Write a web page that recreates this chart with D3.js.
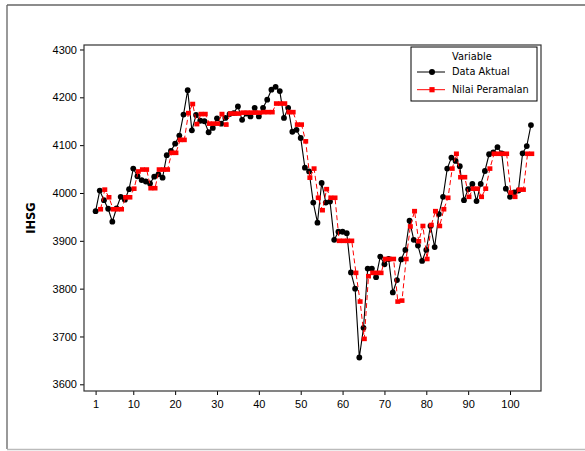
<!DOCTYPE html>
<html>
<head>
<meta charset="utf-8">
<script src="https://cdn.jsdelivr.net/npm/d3@7"></script>
<style>
  body { margin: 0; background: #fff; }
  svg { display: block; font-family: "DejaVu Sans", Verdana, sans-serif; }
  .axis text { font-size: 11px; fill: #000; }
  .axis line { stroke: #000; }
  .axis path { display: none; }
</style>
</head>
<body>
<svg id="chart"></svg>
<script>
// data
var periods = d3.range(1, 106);

var aktual = [
  3962, 4005, 3985, 3967, 3940, 3968, 3992, 3986, 4008, 4051,
  4035, 4027, 4024, 4020, 4034, 4039, 4032, 4079, 4088, 4103,
  4120, 4164, 4215, 4131, 4163, 4151, 4150, 4127, 4136, 4156,
  4145, 4157, 4165, 4167, 4181, 4153, 4166, 4160, 4178, 4160,
  4178, 4195, 4216, 4222, 4213, 4157, 4178, 4128, 4132, 4115,
  4053, 4045, 3980, 3938, 4021, 3980, 3982, 3902, 3919, 3919,
  3916, 3834, 3800, 3656, 3718, 3842, 3842, 3824, 3867, 3851,
  3862, 3792, 3818, 3861, 3881, 3942, 3902, 3890, 3858, 3881,
  3931, 3887, 3956, 3992, 4051, 4074, 4067, 4056, 3985, 4008,
  4019, 3983, 4019, 4046, 4081, 4085, 4096, 4083, 4009, 3992,
  4001, 4005, 4083, 4098, 4142
];

var peramalan = [
  null, 3966, 4007, 3991, 3966, 3966, 3966, 3991, 3991, 4009,
  4045, 4049, 4049, 4010, 4010, 4049, 4049, 4049, 4084, 4084,
  4111, 4111, 4167, 4186, 4144, 4165, 4165, 4145, 4145, 4145,
  4165, 4143, 4166, 4166, 4166, 4168, 4168, 4168, 4168, 4168,
  4169, 4169, 4169, 4187, 4187, 4187, 4169, 4169, 4143, 4143,
  4108, 4032, 4051, 3990, 3964, 4008, 3990, 3990, 3900, 3900,
  3900, 3900, 3833, 3773, 3695, 3826, 3833, 3833, 3833, 3862,
  3862, 3862, 3773, 3775, 3862, 3930, 3962, 3899, 3931, 3862,
  3933, 3962, 3931, 3966, 3990, 4051, 4082, 4033, 4033, 3992,
  4009, 4009, 3992, 4009, 4051, 4082, 4082, 4082, 4082, 4001,
  3992, 4007, 4007, 4082, 4082
];

var xTicks = [1, 10, 20, 30, 40, 50, 60, 70, 80, 90, 100];
var yTicks = [3600, 3700, 3800, 3900, 4000, 4100, 4200, 4300];
var legendLabels = ["Data Aktual", "Nilai Peramalan"];

var svgWidth = 585, svgHeight = 451;
var plot = { left: 84, right: 541, top: 45, bottom: 391 };

var svg = d3.select('#chart')
    .attr('width', svgWidth)
    .attr('height', svgHeight);

// outer frame
svg.append('line').attr('x1', 7).attr('y1', 5).attr('x2', 7).attr('y2', 449)
    .attr('stroke', '#777').attr('stroke-width', 1.5);
svg.append('line').attr('x1', 7).attr('y1', 5).attr('x2', 585).attr('y2', 5)
    .attr('stroke', '#666').attr('stroke-width', 1.5);
svg.append('line').attr('x1', 7).attr('y1', 449.5).attr('x2', 585).attr('y2', 449.5)
    .attr('stroke', '#bbb').attr('stroke-width', 1.5);

var x = d3.scaleLinear()
    .domain([-1.77, 107.4])
    .range([plot.left, plot.right]);

var y = d3.scaleLinear()
    .domain([3586, 4309.4])
    .range([plot.bottom, plot.top]);

// axes
svg.append('g')
    .attr('class', 'axis')
    .attr('transform', 'translate(0,' + plot.bottom + ')')
    .call(d3.axisBottom(x).tickValues(xTicks).tickSize(4).tickPadding(5).tickFormat(d3.format('d')));

svg.append('g')
    .attr('class', 'axis')
    .attr('transform', 'translate(' + plot.left + ',0)')
    .call(d3.axisLeft(y).tickValues(yTicks).tickSize(4).tickPadding(3).tickFormat(d3.format('d')));

// plot frame
svg.append('rect')
    .attr('x', plot.left).attr('y', plot.top)
    .attr('width', plot.right - plot.left)
    .attr('height', plot.bottom - plot.top)
    .attr('fill', 'none')
    .attr('stroke', '#333')
    .attr('stroke-width', 1.2);

svg.append('text')
    .attr('transform', 'translate(35,' + ((plot.top + plot.bottom) / 2) + ') rotate(-90)')
    .attr('text-anchor', 'middle')
    .style('font-size', '11.5px')
    .style('font-weight', 'bold')
    .text('IHSG');

// series
var lineAktual = d3.line()
    .x(function(d, i) { return x(periods[i]); })
    .y(function(d) { return y(d); });

var shift = 0.8; // forecast markers sit a touch to the right in the original
var linePeramalan = d3.line()
    .defined(function(d) { return d != null; })
    .x(function(d, i) { return x(periods[i]) + shift; })
    .y(function(d) { return y(d); });

svg.append('path')
    .datum(aktual)
    .attr('d', lineAktual)
    .attr('fill', 'none')
    .attr('stroke', '#000')
    .attr('stroke-width', 1.1);

svg.selectAll('.dot')
    .data(aktual)
    .enter().append('circle')
    .attr('class', 'dot')
    .attr('cx', function(d, i) { return x(periods[i]); })
    .attr('cy', function(d) { return y(d); })
    .attr('r', 2.9)
    .attr('fill', '#000');

svg.append('path')
    .datum(peramalan)
    .attr('d', linePeramalan)
    .attr('fill', 'none')
    .attr('stroke', '#ff0000')
    .attr('stroke-width', 1)
    .attr('stroke-dasharray', '5,3');

var sqW = 5, sqH = 4.6;
svg.selectAll('.sq')
    .data(peramalan.map(function(v, i) { return { t: periods[i], v: v }; })
        .filter(function(d) { return d.v != null; }))
    .enter().append('rect')
    .attr('class', 'sq')
    .attr('x', function(d) { return x(d.t) + shift - sqW / 2; })
    .attr('y', function(d) { return y(d.v) - sqH / 2; })
    .attr('width', sqW)
    .attr('height', sqH)
    .attr('fill', '#ff0000');

// legend
var legend = svg.append('g').attr('transform', 'translate(411,47)');
legend.append('rect')
    .attr('width', 126).attr('height', 54)
    .attr('fill', '#fff')
    .attr('stroke', '#000')
    .attr('stroke-width', 1);

legend.append('text')
    .attr('x', 41).attr('y', 10)
    .attr('dy', '0.35em')
    .style('font-size', '9.8px')
    .text('Variable');

legendLabels.forEach(function(label, i) {
    var ly = 25 + i * 17.7;
    var g = legend.append('g');
    g.append('line')
        .attr('x1', 6).attr('x2', 34).attr('y1', ly).attr('y2', ly)
        .attr('stroke', i === 0 ? '#000' : '#ff0000')
        .attr('stroke-width', 1);
    if (i === 0) {
        g.append('circle').attr('cx', 21).attr('cy', ly).attr('r', 3).attr('fill', '#000');
    } else {
        g.append('rect').attr('x', 21 - 2.6).attr('y', ly - 2.6)
            .attr('width', 5.2).attr('height', 5.2).attr('fill', '#ff0000');
    }
    g.append('text')
        .attr('x', 41).attr('y', ly)
        .attr('dy', '0.35em')
        .style('font-size', '9.8px')
        .text(label);
});
</script>
</body>
</html>
